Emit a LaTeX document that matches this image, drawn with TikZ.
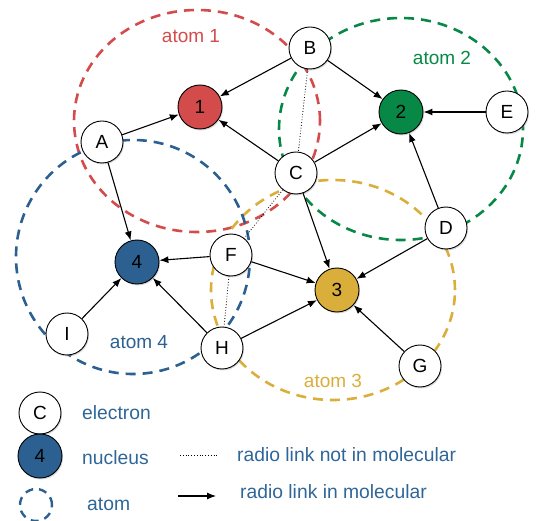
\documentclass[tikz,border=0pt]{standalone}
\usepackage{fontspec}
\setmainfont{Liberation Sans}
\usetikzlibrary{arrows.meta,shadows}
\definecolor{cred}{RGB}{212,75,75}
\definecolor{cgreen}{RGB}{8,136,70}
\definecolor{cblue}{RGB}{44,96,145}
\definecolor{cyellow}{RGB}{218,174,58}
\definecolor{ctext}{RGB}{47,102,152}
\begin{document}
\begin{tikzpicture}[x=1pt,y=-1pt,
  elec/.style={circle,draw=black,line width=0.9pt,fill=white,minimum size=42pt,inner sep=0pt,
    font=\fontsize{19}{19}\selectfont,
    drop shadow={shadow xshift=1pt,shadow yshift=-1.5pt,opacity=0.3}},
  nuc/.style={elec,minimum size=44pt},
  atomring/.style={dash pattern=on 10pt off 7pt,line width=2.6pt},
  link/.style={-{Latex[length=9pt,width=7pt]},line width=1.1pt},
  nolink/.style={dotted,line width=0.8pt},
  lbl/.style={font=\fontsize{19}{19}\selectfont},
  leg/.style={font=\fontsize{19.3}{19}\selectfont,text=ctext,anchor=west,inner sep=0pt}]
\useasboundingbox (0,0) rectangle (536,521);

% atoms
\draw[atomring,cred] (197,121) ellipse [x radius=123pt, y radius=111pt];
\draw[atomring,cgreen] (401,129) ellipse [x radius=122pt, y radius=111pt];
\draw[atomring,cyellow] (333,290) ellipse [x radius=122pt, y radius=110pt];
\draw[atomring,cblue] (133,257) ellipse [x radius=117pt, y radius=117pt];

\node[lbl,text=cred] (t1) at (191,36) {atom 1};
\node[lbl,text=cgreen] (t2) at (442,58) {atom 2};
\node[lbl,text=cyellow] (t3) at (333,381) {atom 3};
\node[lbl,text=cblue] (t4) at (139,342) {atom 4};

% nodes
\node[nuc,fill=cred] (n1) at (200,107) {1};
\node[nuc,fill=cgreen] (n2) at (401,112) {2};
\node[nuc,fill=cyellow] (n3) at (337,290) {3};
\node[nuc,fill=cblue] (n4) at (137,262) {4};
\node[elec] (B) at (310,48) {B};
\node[elec] (E) at (507,112) {E};
\node[elec] (A) at (102,142) {A};
\node[elec] (C) at (296,173) {C};
\node[elec] (D) at (446,228) {D};
\node[elec] (F) at (231,255) {F};
\node[elec] (I) at (67,334) {I};
\node[elec] (H) at (222,348) {H};
\node[elec] (G) at (420,366) {G};

% links
\draw[link] (B) -- (n1);
\draw[link] (B) -- (n2);
\draw[link] (A) -- (n1);
\draw[link] (A) -- (n4);
\draw[link] (C) -- (n1);
\draw[link] (C) -- (n2);
\draw[link] (C) -- (n3);
\draw[link] (E) -- (n2);
\draw[link] (D) -- (n2);
\draw[link] (D) -- (n3);
\draw[link] (F) -- (n4);
\draw[link] (F) -- (n3);
\draw[link] (H) -- (n4);
\draw[link] (H) -- (n3);
\draw[link] (I) -- (n4);
\draw[link] (G) -- (n3);
\draw[nolink] (B) -- (C);
\draw[nolink] (C) -- (F);
\draw[nolink] (F) -- (H);

% legend
\node[elec] (lc) at (40,413) {C};
\node[nuc,fill=cblue] (l4) at (40,456) {4};
\draw[cblue,line width=2.4pt,dash pattern=on 8pt off 6pt] (36,505) circle [radius=16pt];
\node[leg] (le) at (82,413) {electron};
\node[leg] (ln) at (82,458) {nucleus};
\node[leg] (la) at (87,504) {atom};
\coordinate (d1) at (180,455);
\coordinate (d2) at (218,455);
\draw[nolink] (d1) -- (d2);
\node[leg] (lnot) at (237,455) {radio link not in molecular};
\coordinate (a1) at (178,496);
\coordinate (a2) at (216,496);
\draw[link] (a1) -- (a2);
\node[leg] (lin) at (240,492) {radio link in molecular};
\end{tikzpicture}
\end{document}
